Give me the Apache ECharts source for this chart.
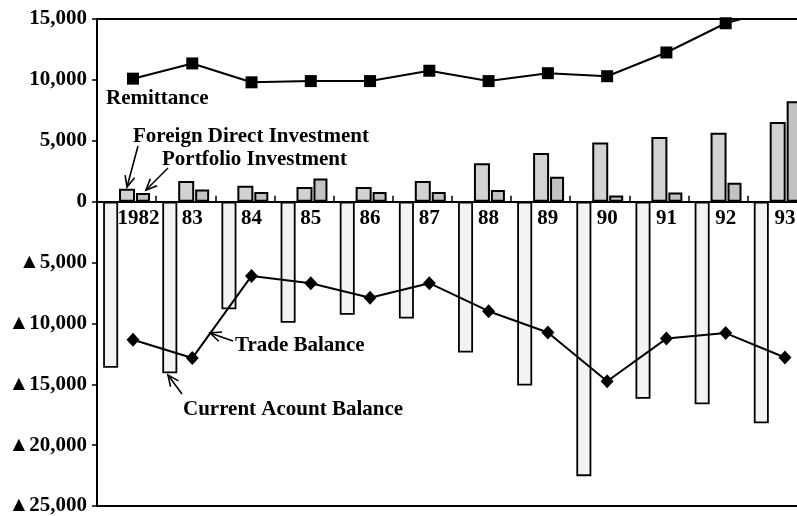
<!DOCTYPE html>
<html><head><meta charset="utf-8">
<script src="https://cdn.jsdelivr.net/npm/echarts@6/dist/echarts.min.js"></script>
<style>html,body{margin:0;padding:0;background:#fff}#c{width:797px;height:516px}</style>
</head><body><div id="c"></div>
<script>
// ---- data ----
const years = ['1982','83','84','85','86','87','88','89','90','91','92','93'];
const currentAccount = [-13650,-14100,-8850,-9950,-9300,-9600,-12400,-15100,-22550,-16200,-16650,-18200];
const foreignDirect = [1050,1700,1300,1200,1200,1700,3150,4000,4850,5300,5650,6550];
const portfolio = [700,1000,800,1900,800,800,950,2050,500,750,1550,8250];
const remittance = [10100,11350,9800,9900,9900,10750,9900,10550,10300,12250,14650,16000];
const tradeBalance = [-11350,-12850,-6100,-6700,-7900,-6700,-9000,-10750,-14750,-11250,-10800,-12800];
const yMin = -25000, yMax = 15000, yStep = 5000;

const FONT = '"Liberation Serif", "Times New Roman", serif';
function fmtY(v){
  const s = Math.abs(v).toLocaleString('en-US');
  return v < 0 ? '\u25B2' + s : s;
}
function label(x, y, s, size){
  return {type:'text', x:x, y:y, z:100,
    style:{text:s, fill:'#000', font: 'bold ' + (size||21) + 'px ' + FONT, verticalAlign:'middle', align:'left'}};
}
function arrow(tail, tip){
  const a = Math.atan2(tail[1]-tip[1], tail[0]-tip[0]);
  const L = 12, th = 0.42;
  const p1 = [tip[0] + L*Math.cos(a+th), tip[1] + L*Math.sin(a+th)];
  const p2 = [tip[0] + L*Math.cos(a-th), tip[1] + L*Math.sin(a-th)];
  return [
    {type:'polyline', z:100, shape:{points:[tail, tip]}, style:{stroke:'#000', lineWidth:1.6, fill:null}},
    {type:'polyline', z:100, shape:{points:[p1, tip, p2]}, style:{stroke:'#000', lineWidth:1.6, fill:null}}
  ];
}

const chart = echarts.init(document.getElementById('c'), null, {renderer:'canvas'});
const option = {
  animation:false,
  backgroundColor:'#fff',
  grid:{left:97, top:19, bottom:10, right:-9.8, containLabel:false, outerBoundsMode:'none',
        show:true, borderColor:'#000', borderWidth:2, backgroundColor:'transparent'},
  xAxis:[
    {type:'category', data:years, boundaryGap:true,
     axisLine:{show:true, onZero:true, lineStyle:{color:'#000', width:2}},
     axisTick:{show:true, inside:true, length:6, interval:0, lineStyle:{color:'#000', width:1.5}},
     axisLabel:{show:false},
     splitLine:{show:false}},
    {type:'value', min:-0.6074, max:11.369, show:false, splitLine:{show:false}}
  ],
  yAxis:[{type:'value', min:yMin, max:yMax, interval:yStep,
    axisLine:{show:true, onZero:false, lineStyle:{color:'#000', width:2}},
    axisTick:{show:true, length:5, lineStyle:{color:'#000', width:1.5}},
    axisLabel:{formatter:fmtY, margin:10, color:'#000', fontFamily:FONT, fontSize:21, fontWeight:'bold'},
    splitLine:{show:false}}],
  series:[
    {name:'Current Acount Balance', type:'bar', data:currentAccount, barWidth:15, barGap:'6%',
     itemStyle:{color:'#f3f3f3', borderColor:'#000', borderWidth:1.8}},
    {name:'Foreign Direct Investment', type:'bar', data:foreignDirect, barWidth:16, barGap:'6%',
     itemStyle:{color:'#d2d2d2', borderColor:'#000', borderWidth:2}},
    {name:'Portfolio Investment', type:'bar', data:portfolio, barWidth:14, barGap:'6%',
     itemStyle:{color:'#c2c2c2', borderColor:'#000', borderWidth:2}},
    {name:'Remittance', type:'line', xAxisIndex:1, data:remittance.map((v,i)=>[i,v]),
     symbol:'rect', symbolSize:12, clip:true,
     lineStyle:{color:'#000', width:2}, itemStyle:{color:'#000'}, z:10},
    {name:'Trade Balance', type:'line', xAxisIndex:1, data:tradeBalance.map((v,i)=>[i,v]),
     symbol:'diamond', symbolSize:[13,14], clip:true,
     lineStyle:{color:'#000', width:2}, itemStyle:{color:'#000'}, z:10},
    // year labels under the zero line
    {name:'years', type:'scatter', xAxisIndex:1, data:years.map((y,i)=>[i,0]),
     symbolSize:0, itemStyle:{color:'#000', opacity:1}, silent:true, clip:false, z:12,
     emphasis:{disabled:true},
     label:{show:true, position:'bottom', distance:6, color:'#000', opacity:1,
       formatter:function(p){ return p.dataIndex === 0 ? '{f|' + years[0] + '}' : '{o|' + years[p.dataIndex] + '}'; },
       rich:{
         f:{padding:[0,0,0,11], fontFamily:FONT, fontSize:21, fontWeight:'bold', color:'#000'},
         o:{fontFamily:FONT, fontSize:21, fontWeight:'bold', color:'#000'}
       }},
     labelLayout:{hideOverlap:false}}
  ],
  graphic:[
    label(106, 99, 'Remittance'),
    label(133, 137, 'Foreign Direct Investment'),
    label(162, 160, 'Portfolio Investment'),
    label(235, 346, 'Trade Balance'),
    label(183, 410, 'Current Acount Balance'),
    ...arrow([138,146],[127,187]),
    ...arrow([168,168],[146,190]),
    ...arrow([233,341],[210,333]),
    ...arrow([182,394],[168,375])
  ]
};
chart.setOption(option);
</script>
</body></html>
